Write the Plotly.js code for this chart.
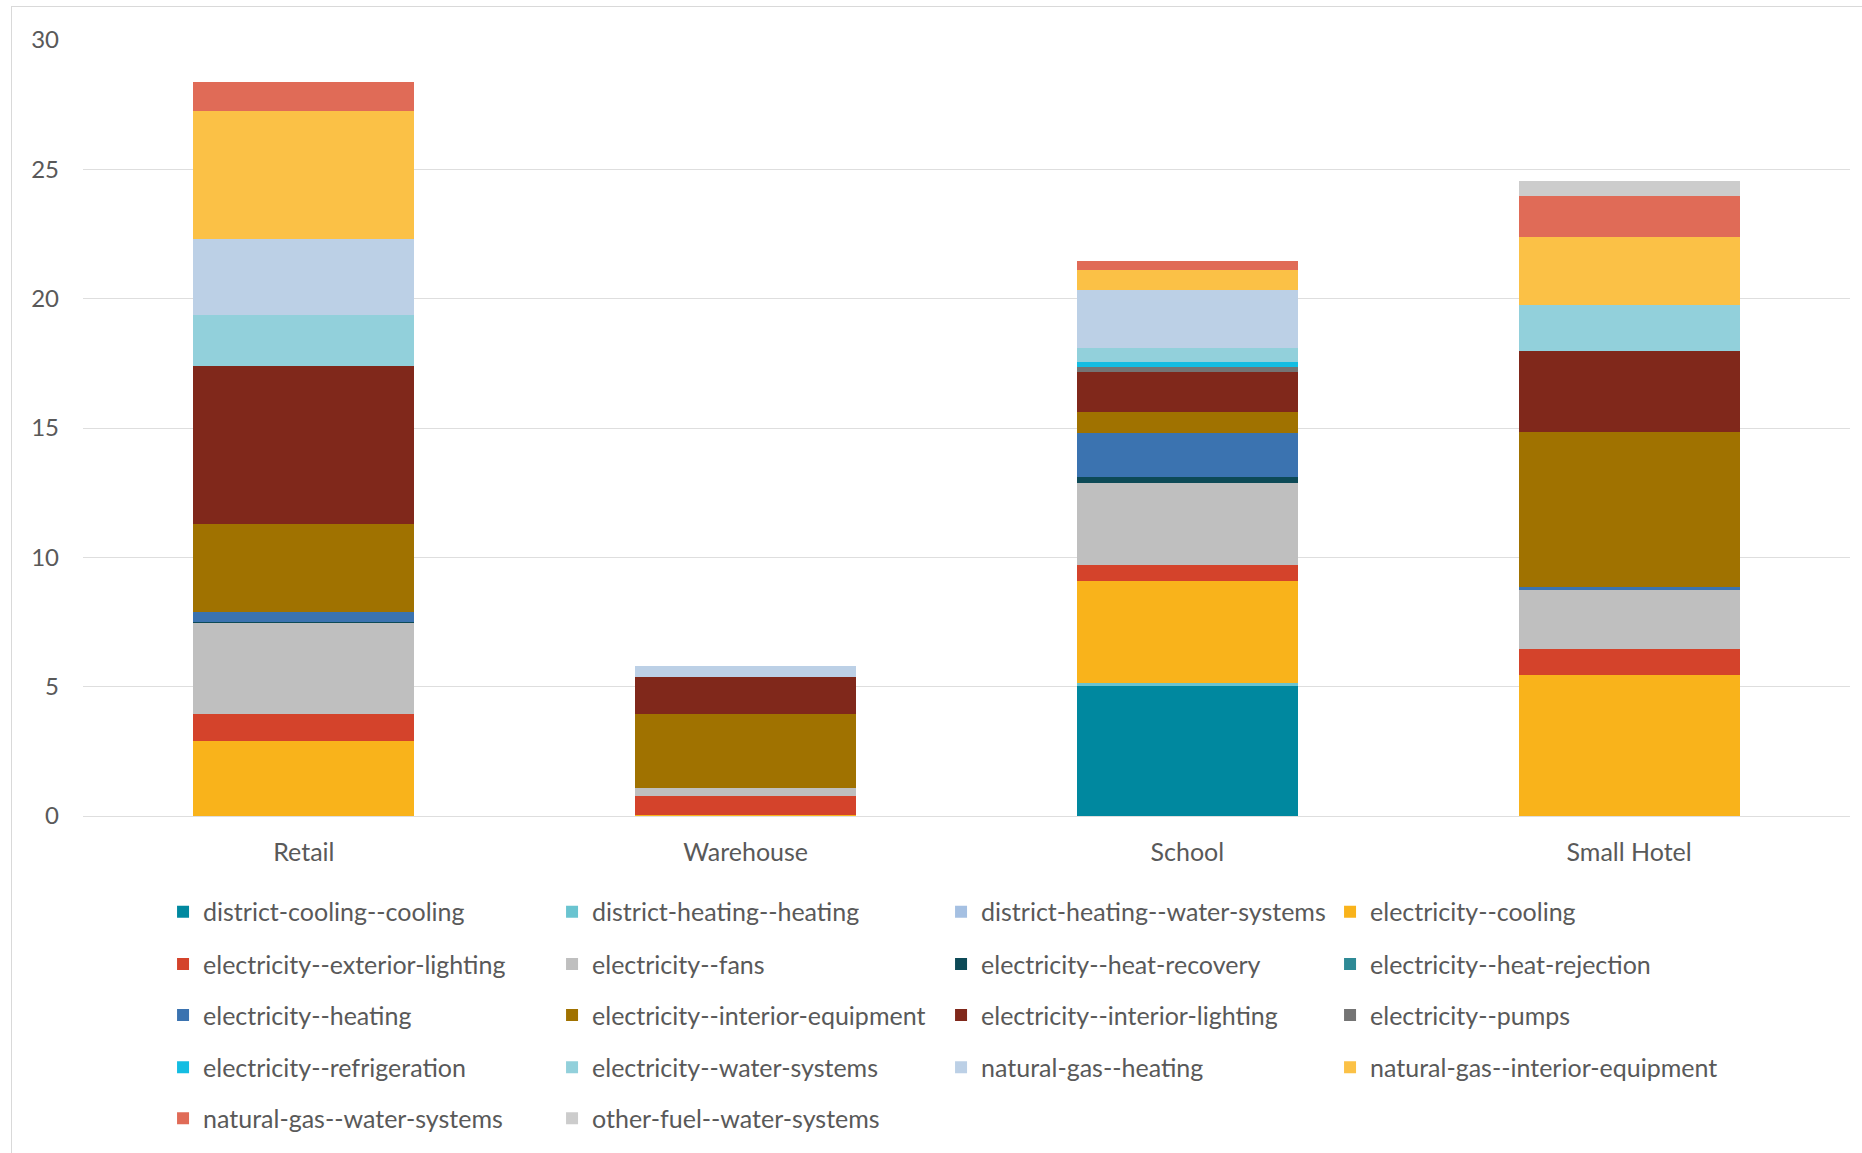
<!DOCTYPE html>
<html>
<head>
<meta charset="utf-8">
<script src="https://cdn.plot.ly/plotly-3.0.1.min.js"></script>
<style>
html, body { margin: 0; padding: 0; background: #ffffff; overflow: hidden; }
#chart { width: 1862px; height: 1153px; position: absolute; left: 0; top: 0; }
#frame { position: absolute; left: 11px; top: 6px; width: 1900px; height: 1200px; border: 1px solid #d9d9d9; pointer-events: none; }
</style>
</head>
<body>
<div id="chart"></div>
<div id="frame"></div>
<script>
// Categories (building types)
const categories = ["Retail", "Warehouse", "School", "Small Hotel"];

// End-use values per series, in the order [Retail, Warehouse, School, Small Hotel]
const districtCoolingCooling          = [0,    0,    5.04, 0];
const districtHeatingHeating          = [0,    0,    0.10, 0];
const districtHeatingWaterSystems     = [0,    0,    0,    0];
const electricityCooling              = [2.90, 0.05, 3.95, 5.45];
const electricityExteriorLighting     = [1.03, 0.72, 0.63, 1.01];
const electricityFans                 = [3.52, 0.33, 3.17, 2.28];
const electricityHeatRecovery         = [0.04, 0,    0.23, 0];
const electricityHeatRejection        = [0,    0,    0,    0];
const electricityHeating              = [0.41, 0,    1.70, 0.12];
const electricityInteriorEquipment    = [3.40, 2.86, 0.81, 5.99];
const electricityInteriorLighting     = [6.09, 1.40, 1.55, 3.14];
const electricityPumps                = [0,    0,    0.17, 0];
const electricityRefrigeration        = [0,    0,    0.22, 0];
const electricityWaterSystems         = [1.96, 0,    0.52, 1.77];
const naturalGasHeating               = [2.94, 0.45, 2.24, 0];
const naturalGasInteriorEquipment     = [4.98, 0,    0.78, 2.62];
const naturalGasWaterSystems          = [1.09, 0,    0.34, 1.60];
const otherFuelWaterSystems           = [0,    0,    0,    0.55];

// Series names (legend labels), in stacking order bottom -> top
const seriesNames = [
  "district-cooling--cooling", "district-heating--heating", "district-heating--water-systems", "electricity--cooling",
  "electricity--exterior-lighting", "electricity--fans", "electricity--heat-recovery", "electricity--heat-rejection",
  "electricity--heating", "electricity--interior-equipment", "electricity--interior-lighting", "electricity--pumps",
  "electricity--refrigeration", "electricity--water-systems", "natural-gas--heating", "natural-gas--interior-equipment",
  "natural-gas--water-systems", "other-fuel--water-systems"
];
const seriesValues = [
  districtCoolingCooling, districtHeatingHeating, districtHeatingWaterSystems, electricityCooling,
  electricityExteriorLighting, electricityFans, electricityHeatRecovery, electricityHeatRejection,
  electricityHeating, electricityInteriorEquipment, electricityInteriorLighting, electricityPumps,
  electricityRefrigeration, electricityWaterSystems, naturalGasHeating, naturalGasInteriorEquipment,
  naturalGasWaterSystems, otherFuelWaterSystems
];
const seriesColors = [
  "#00889f", "#6ac4d0", "#a5c0e2", "#f9b31b",
  "#d4432b", "#bfbfbf", "#0d4a57", "#2e8a96",
  "#3b73b0", "#a07200", "#80281b", "#747474",
  "#14bde2", "#92d0db", "#bcd0e6", "#fbc146",
  "#e06b57", "#cccccc"
];

const textColor = "#595959";
const fontFamily = "Lato, 'Open Sans', sans-serif";
const legendIds = ["legend", "legend2", "legend3", "legend4", "legend5"];
const perRow = 4;

const traces = seriesNames.map((name, i) => ({
  type: "bar",
  name: name,
  x: categories,
  y: seriesValues[i],
  marker: { color: seriesColors[i], line: { width: 0 } },
  legend: legendIds[Math.floor(i / perRow)],
  hoverinfo: "skip"
}));

const rowY = [-0.1237, -0.1910, -0.2568, -0.3242, -0.3899];
function legendCfg(y) {
  return {
    orientation: "h",
    x: 0.0453, xanchor: "left",
    y: y, yanchor: "middle",
    entrywidth: 344, entrywidthmode: "pixels",
    traceorder: "normal",
    bgcolor: "rgba(0,0,0,0)",
    borderwidth: 0,
    font: { family: fontFamily, size: 25, color: textColor }
  };
}

const layout = {
  width: 1862,
  height: 1153,
  margin: { l: 83, r: 12, t: 40, b: 337, autoexpand: false },
  paper_bgcolor: "rgba(0,0,0,0)",
  plot_bgcolor: "rgba(0,0,0,0)",
  barmode: "stack",
  bargap: 0.5,
  hovermode: false,
  font: { family: fontFamily, color: textColor },
  xaxis: {
    type: "category",
    showline: false,
    showgrid: false,
    zeroline: false,
    ticks: "",
    ticklabelstandoff: 19,
    tickfont: { family: fontFamily, size: 25, color: textColor }
  },
  yaxis: {
    range: [0, 30],
    tickvals: [0, 5, 10, 15, 20, 25, 30],
    ticktext: ["0", "5", "10", "15", "20", "25", "30"],
    showline: false,
    showgrid: true,
    gridcolor: "#dedede",
    gridwidth: 1,
    zeroline: true,
    zerolinecolor: "#dedede",
    zerolinewidth: 1,
    ticks: "",
    ticklabelstandoff: 23,
    tickfont: { family: fontFamily, size: 24, color: textColor }
  },
  showlegend: true
};
legendIds.forEach((id, k) => { layout[id] = legendCfg(rowY[k]); });

Plotly.newPlot("chart", traces, layout, { staticPlot: true, displayModeBar: false });
</script>
</body>
</html>
